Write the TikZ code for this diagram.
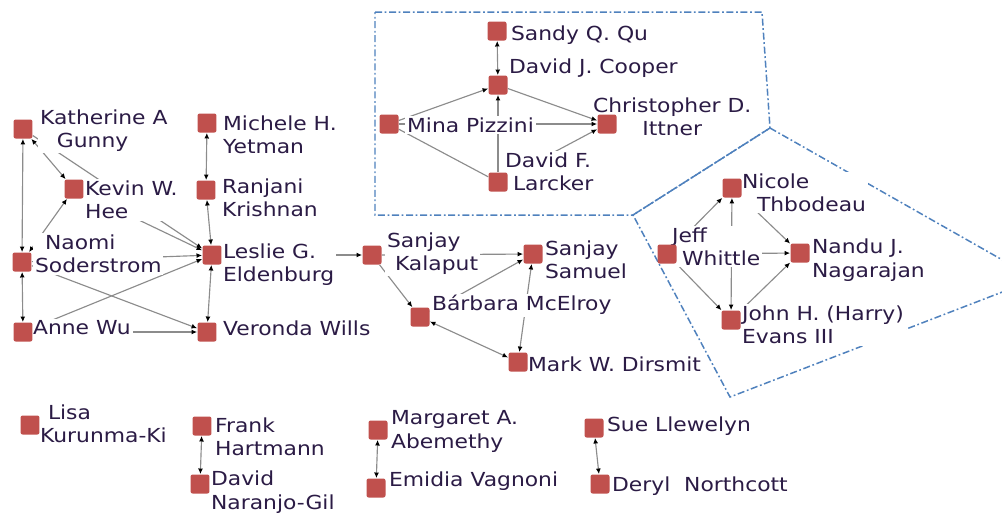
\documentclass[tikz,border=0pt]{standalone}
\usepackage{fontspec}
\setmainfont{DejaVu Sans}[FakeStretch=1.13]
\definecolor{NodeRed}{HTML}{C0504D}
\definecolor{LinkGray}{HTML}{8C8C8C}
\definecolor{GroupBlue}{HTML}{4F81BD}
\definecolor{TagText}{HTML}{2B1B45}
\usetikzlibrary{arrows.meta}
\pgfdeclarelayer{edges}
\pgfdeclarelayer{tags}
\pgfsetlayers{edges,tags,main}

\tikzset{
  hd/.tip={Latex[length=3.2pt,width=2.8pt,color=black]},
  person/.style={fill=NodeRed, minimum size=0.38cm, inner sep=0pt, rounded corners=1.2pt},
  tag/.style={anchor=west, align=left, fill=white, inner sep=1pt, text=TagText,
    font=\fontsize{11pt}{13.3pt}\selectfont},
  link/.style={draw=LinkGray, line width=0.65pt},
  oneway/.style={link, -hd},
  twoway/.style={link, hd-hd},
  group/.style={draw=GroupBlue, line width=0.85pt, dash pattern=on 4pt off 1.5pt on 1pt off 1.5pt}
}

\begin{document}
\begin{tikzpicture}[x=0.02cm, y=-0.02cm]

\useasboundingbox (0,0) rectangle (1002,515);

% people
\node[person] (kat) at (23,129) {};
\node[person] (kev) at (74,189) {};
\node[person] (nao) at (22,262) {};
\node[person] (anne) at (23,332) {};
\node[person] (mich) at (207,123) {};
\node[person] (ranj) at (206,190) {};
\node[person] (les) at (212,255) {};
\node[person] (ver) at (207,332) {};
\node[person] (kal) at (372,255) {};
\node[person] (sam) at (533,254) {};
\node[person] (bar) at (420,317) {};
\node[person] (mark) at (518,362) {};
\node[person] (sandy) at (497,31) {};
\node[person] (coop) at (498,85) {};
\node[person] (mina) at (389,124) {};
\node[person] (itt) at (607,124) {};
\node[person] (larc) at (498,182) {};
\node[person] (nic) at (732,188) {};
\node[person] (jeff) at (667,254) {};
\node[person] (nandu) at (800,253) {};
\node[person] (john) at (731,320) {};
\node[person] (lisa) at (30,425) {};
\node[person] (frank) at (202,426) {};
\node[person] (davn) at (200,484) {};
\node[person] (marg) at (378,430) {};
\node[person] (emi) at (376,488) {};
\node[person] (sue) at (594,428) {};
\node[person] (der) at (600,484) {};

% names
\begin{pgfonlayer}{tags}
\node[tag] (katL) at (38,130.5) {Katherine A\\\hspace*{9.6pt}Gunny};
\node[tag] (kevL) at (83,200) {Kevin W.\\Hee};
\node[tag] (naoL) at (33,254) {\hspace*{5.7pt}Naomi\\Soderstrom};
\node[tag] (anneL) at (31,328) {Anne Wu};
\node[tag] (michL) at (221,134.5) {Michele H.\\Yetman};
\node[tag] (ranjL) at (220,197.5) {Ranjani\\Krishnan};
\node[tag] (lesL) at (221,264.5) {Leslie G.\\Eldenburg};
\node[tag] (verL) at (221,328) {Veronda Wills};
\node[tag] (kalL) at (385,253.5) {Sanjay\\\hspace*{4.5pt}Kalaput};
\node[tag] (samL) at (543,260) {Sanjay\\Samuel};
\node[tag] (barL) at (430,305) {Bárbara McElroy};
\node[tag] (markL) at (526,364) {Mark W. Dirsmit};
\node[tag] (sandyL) at (509,35) {Sandy Q. Qu};
\node[tag] (coopL) at (507,68) {David J. Cooper};
\node[tag] (minaL) at (405,125) {Mina Pizzini};
\node[tag, align=center, fill=none] (ittL) at (591,116.5) {Christopher D.\\Ittner};
\node[tag] (larcL) at (503,172) {David F.\\\hspace*{4.5pt}Larcker};
\node[tag] (nicL) at (740,192.5) {Nicole\\\hspace*{8.5pt}Thbodeau};
\node[tag] (jeffL) at (670,246.5) {Jeff\\\hspace*{5.7pt}Whittle};
\node[tag] (nanduL) at (810,260) {Nandu J.\\Nagarajan};
\node[tag] (johnL) at (740,325) {John H. (Harry)\\Evans III};
\node[tag] (lisaL) at (38,423.5) {\hspace*{4.5pt}Lisa\\Kurunma-Ki};
\node[tag] (frankL) at (213,437) {Frank\\Hartmann};
\node[tag] (davnL) at (209,492) {David\\Naranjo-Gil};
\node[tag] (margL) at (389,431.5) {Margaret A.\\Abemethy};
\node[tag] (emiL) at (387,481) {Emidia Vagnoni};
\node[tag] (sueL) at (605,426) {Sue Llewelyn};
\node[tag] (derL) at (610,486) {Deryl\ \ Northcott};
\end{pgfonlayer}

\begin{pgfonlayer}{edges}
% groups
\draw[group] (375,12) -- (762,12) -- (770,128) -- (633,215) -- (375,215) -- cycle;
\draw[group] (770,128) -- (1036,279) -- (730,397) -- (633,215) -- cycle;

% left cluster
\draw[twoway] (kat) -- (nao);
\draw[twoway] (kat) -- (kev);
\draw[oneway] (kat) -- (les);
\draw[oneway] (kev) -- (les);
\draw[twoway] (nao) -- (kev);
\draw[oneway] (nao) -- (les);
\draw[oneway] (anne) -- (les);
\draw[oneway] (nao) -- (ver);
\draw[oneway] (anne) -- (ver);
\draw[twoway] (nao) -- (anne);
\draw[twoway] (mich) -- (ranj);
\draw[twoway] (ranj) -- (les);
\draw[twoway] (les) -- (ver);
\draw[oneway] (les) -- (kal);

% middle
\draw[oneway] (kal) -- (sam);
\draw[oneway] (kal) -- (bar);
\draw[oneway] (bar) -- (sam);
\draw[twoway] (bar) -- (mark);
\draw[twoway] (sam) -- (mark);

% top group
\draw[twoway] (sandy) -- (coop);
\draw[oneway] (mina) -- (coop);
\draw[oneway] (larc) -- (coop);
\draw[oneway] (coop) -- (itt);
\draw[oneway] (mina) -- (itt);
\draw[link] (mina) -- (larc);
\draw[oneway] (larc) -- (itt);

% right group
\draw[oneway] (jeff) -- (nic);
\draw[oneway] (jeff) -- (nandu);
\draw[oneway] (jeff) -- (john);
\draw[twoway] (john) -- (nic);
\draw[twoway] (nic) -- (nandu);
\draw[oneway] (john) -- (nandu);

% pairs
\draw[twoway] (frank) -- (davn);
\draw[twoway] (marg) -- (emi);
\draw[twoway] (sue) -- (der);
\end{pgfonlayer}

\end{tikzpicture}
\end{document}
